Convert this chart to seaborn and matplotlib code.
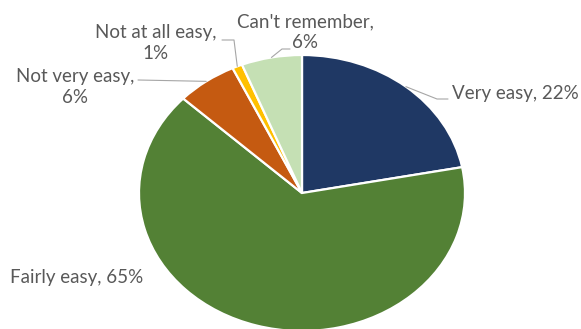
import numpy as np
import matplotlib
matplotlib.use("Agg")
import matplotlib.pyplot as plt
import seaborn as sns

# data
labels = ["Very easy", "Fairly easy", "Not very easy", "Not at all easy", "Can't remember"]
shares = [22, 65, 6, 1, 6]
colors = ["#1F3864", "#538135", "#C55A11", "#FFC000", "#C5E0B4"]

sns.set_theme(style="white")
plt.rcParams['font.family'] = ['Lato', 'DejaVu Sans']

W, H = 581, 329
fig = plt.figure(figsize=(W / 100, H / 100), dpi=100)
ax = fig.add_axes([0, 0, 1, 1])

# pie centre / radii in pixels (pie is slightly squashed vertically)
cx, cy, rx, ry = 302, 193, 163, 138

def px2d(px, py):
    return (px - cx) / rx, (cy - py) / ry

wedges, _ = ax.pie(shares, colors=colors, startangle=90, counterclock=False,
                   wedgeprops=dict(edgecolor="white", linewidth=1.6))
ax.set_aspect("auto")
ax.set_xlim(px2d(0, 0)[0], px2d(W, 0)[0])
ax.set_ylim(px2d(0, H)[1], px2d(0, 0)[1])
ax.axis("off")

# text placement (pixels) and leader line points (pixels)
text_pos = [(452, 93, "left"), (10, 278, "left"), (75, 87, "center"),
            (156, 43, "center"), (305, 32, "center")]
leaders = [[(437, 99), (448, 99)], None, [(138, 80)],
           [(234, 40), (222, 40)], [(282, 49), (290, 49)]]
texts = [f"{l}, {s}%" if i < 2 else f"{l},\n{s}%"
         for i, (l, s) in enumerate(zip(labels, shares))]

for w, (tx, ty, ha), lead, t in zip(wedges, text_pos, leaders, texts):
    x, y = px2d(tx, ty)
    ax.text(x, y, t, ha=ha, va="center", multialignment="center",
            fontsize=13.5, color="#595959", linespacing=1.25)
    if lead:
        mid = np.deg2rad((w.theta1 + w.theta2) / 2)
        pts = [(np.cos(mid), np.sin(mid))] + [px2d(*p) for p in lead]
        xs, ys = zip(*pts)
        ax.plot(xs, ys, color="#A6A6A6", lw=0.8)

fig.savefig("out.png", dpi=100)
